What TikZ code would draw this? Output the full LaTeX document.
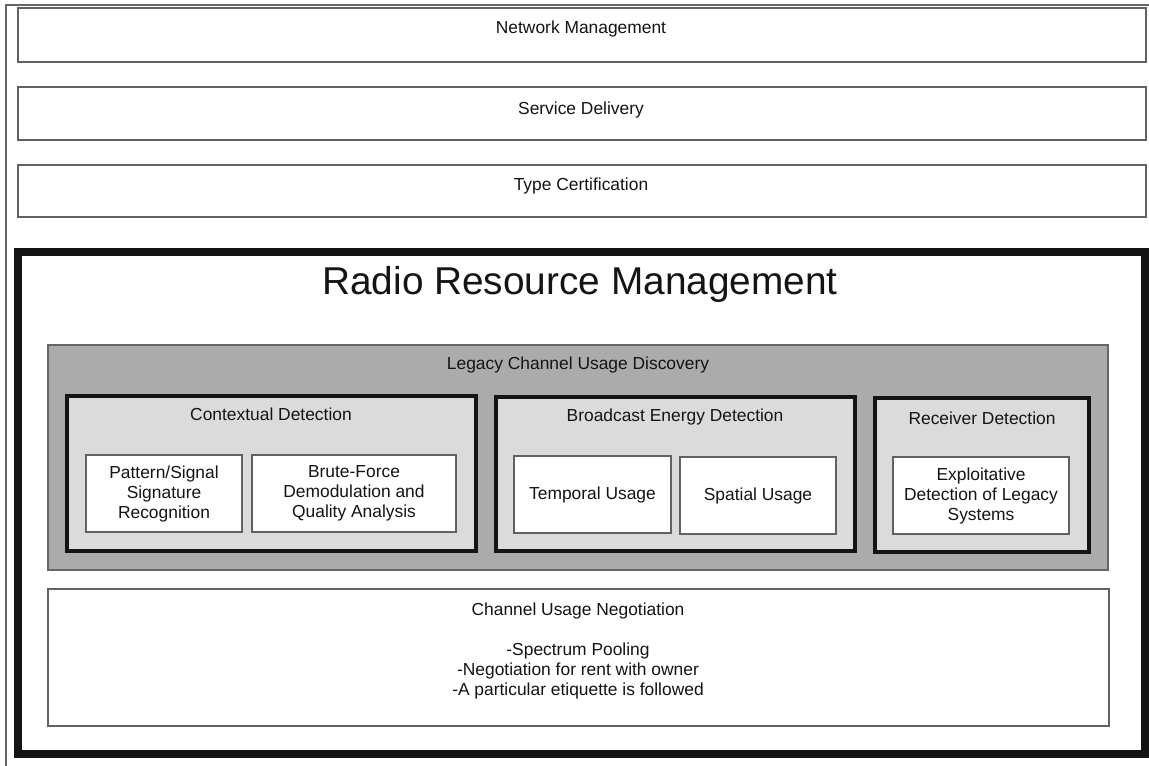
\documentclass[tikz,border=0pt]{standalone}
\usepackage{fontspec}
\setmainfont{Liberation Sans}
\usetikzlibrary{fit}

\tikzset{
  frameline/.style={draw=black!60, line width=0.75pt},
  plainbox/.style={draw=black!62, line width=0.75pt, fill=white, inner sep=0pt},
  rrmbox/.style={draw=black!92, line width=4pt, inner sep=0pt},
  legacybox/.style={draw=black!60, line width=0.75pt, fill=black!33, inner sep=0pt},
  detbox/.style={draw=black!92, line width=2.3pt, fill=black!14, inner sep=0pt},
  lbl/.style={font=\fontsize{8.7}{10}\selectfont, align=center, text=black!92, inner sep=0pt},
  bigtitle/.style={font=\fontsize{19.4}{22}\selectfont, text=black!92, inner sep=0pt}
}

\begin{document}
\begin{tikzpicture}[x=0.5pt, y=-0.5pt]
  \useasboundingbox (0,0) rectangle (1149,765);

  % surrounding page frame
  \coordinate (fbl) at (6,775);
  \coordinate (ftl) at (6,5);
  \coordinate (ftr) at (1160,5);
  \draw[frameline] (fbl) -- (ftl) -- (ftr);

  % upper layers
  \node[plainbox, fit={(18,8) (1146,62)}] (nm) {};
  \node[lbl] (nmt) at (581,29) {Network Management};
  \node[plainbox, fit={(18,87) (1146,140)}] (sd) {};
  \node[lbl] (sdt) at (581,110) {Service Delivery};
  \node[plainbox, fit={(18,165) (1146,217)}] (tc) {};
  \node[lbl] (tct) at (581,186) {Type Certification};

  % radio resource management layer
  \node[rrmbox, fit={(18,252) (1145,754)}] (rrm) {};
  \node[bigtitle] (rrmt) at (580,284) {Radio Resource Management};

  % legacy channel usage discovery
  \node[legacybox, fit={(48,345) (1108,570)}] (lcud) {};
  \node[lbl] (lcudt) at (578,365) {Legacy Channel Usage Discovery};

  \node[detbox, fit={(67,396) (476,551)}] (ctx) {};
  \node[lbl] (ctxt) at (271,414) {Contextual Detection};
  \node[plainbox, fit={(86,455) (242,532)}] (pat) {};
  \node[lbl] at (pat.center) (patt) {Pattern/Signal\\Signature\\Recognition};
  \node[plainbox, fit={(252,455) (456,532)}] (bru) {};
  \node[lbl] at (bru.center) (brut) {Brute-Force\\Demodulation and\\Quality Analysis};

  \node[detbox, fit={(496,397) (855,551)}] (bed) {};
  \node[lbl] (bedt) at (675,417) {Broadcast Energy Detection};
  \node[plainbox, fit={(514,456) (671,533)}] (tem) {};
  \node[lbl] at (tem.center) (temt) {Temporal Usage};
  \node[plainbox, fit={(680,457) (836,534)}] (spa) {};
  \node[lbl] at (spa.center) (spat) {Spatial Usage};

  \node[detbox, fit={(875,398) (1089,552)}] (rcv) {};
  \node[lbl] (rcvt) at (982,418) {Receiver Detection};
  \node[plainbox, fit={(893,457) (1069,534)}] (exd) {};
  \node[lbl] at (exd.center) (exdt) {Exploitative\\Detection of Legacy\\Systems};

  % channel usage negotiation
  \node[plainbox, fit={(48,589) (1109,726)}] (cun) {};
  \node[lbl, anchor=north] (cunt) at (578,602)
    {Channel Usage Negotiation\\[10pt]-Spectrum Pooling\\-Negotiation for rent with owner\\-A particular etiquette is followed};
\end{tikzpicture}
\end{document}
